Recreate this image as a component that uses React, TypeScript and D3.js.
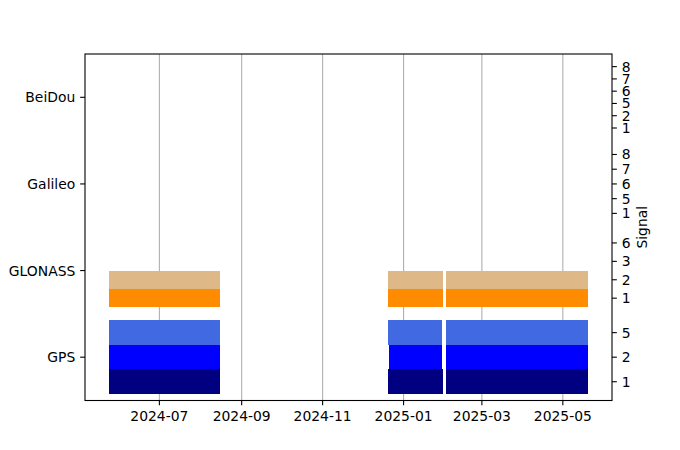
import React from 'react';
import * as d3 from 'd3';

// constellations, bottom to top
const constellations = ['GPS', 'GLONASS', 'Galileo', 'BeiDou'];

// signals tracked per constellation (bottom to top inside each band)
const gpsSignals = ['1', '2', '5'];
const glonassSignals = ['1', '2', '3', '6'];
const galileoSignals = ['1', '5', '6', '7', '8'];
const beidouSignals = ['1', '2', '5', '6', '7', '8'];

// observed periods per signal
const gpsSegments = [
  { signal: '1', start: '2024-05-24', end: '2024-08-16' },
  { signal: '1', start: '2024-12-20', end: '2025-01-31' },
  { signal: '1', start: '2025-02-02', end: '2025-05-20' },
  { signal: '2', start: '2024-05-24', end: '2024-08-16' },
  { signal: '2', start: '2024-12-21', end: '2025-01-30' },
  { signal: '2', start: '2025-02-02', end: '2025-05-20' },
  { signal: '5', start: '2024-05-24', end: '2024-08-16' },
  { signal: '5', start: '2024-12-20', end: '2025-01-30' },
  { signal: '5', start: '2025-02-02', end: '2025-05-20' },
];
const glonassSegments = [
  { signal: '1', start: '2024-05-24', end: '2024-08-16' },
  { signal: '1', start: '2024-12-20', end: '2025-01-31' },
  { signal: '1', start: '2025-02-02', end: '2025-05-20' },
  { signal: '2', start: '2024-05-24', end: '2024-08-16' },
  { signal: '2', start: '2024-12-20', end: '2025-01-31' },
  { signal: '2', start: '2025-02-02', end: '2025-05-20' },
];
const galileoSegments: { signal: string; start: string; end: string }[] = [];
const beidouSegments: { signal: string; start: string; end: string }[] = [];

const signalColors: Record<string, string> = {
  'GPS-1': '#000080',
  'GPS-2': '#0000ff',
  'GPS-5': '#4169e1',
  'GLONASS-1': '#ff8c00',
  'GLONASS-2': '#deb887',
};

const W = 680;
const H = 450;
const margin = { left: 85, right: 612, top: 54, bottom: 400.5 };
const bandHeight = 0.85;
const fontSize = 13.9;
const font = 'DejaVu Sans, sans-serif';

export default function App() {
  const signalLists = [gpsSignals, glonassSignals, galileoSignals, beidouSignals];
  const segmentLists = [gpsSegments, glonassSegments, galileoSegments, beidouSegments];

  const parse = d3.utcParse('%Y-%m-%d');
  const bars = segmentLists.flatMap((segs, k) =>
    segs.map(s => ({
      k,
      idx: signalLists[k].indexOf(s.signal),
      n: signalLists[k].length,
      start: parse(s.start) as Date,
      end: parse(s.end) as Date,
      color: signalColors[`${constellations[k]}-${s.signal}`],
    }))
  );

  // matplotlib-like 5% margin around the data
  const minT = d3.min(bars, d => +d.start) as number;
  const maxT = d3.max(bars, d => +d.end) as number;
  const pad = (maxT - minT) * 0.05;
  const x = d3.scaleUtc()
    .domain([new Date(minT - pad), new Date(maxT + pad)])
    .range([margin.left, margin.right]);
  const y = d3.scaleLinear()
    .domain([-0.5, constellations.length - 0.5])
    .range([margin.bottom, margin.top]);

  const xTicks = x.ticks(d3.utcMonth.every(2) as d3.TimeInterval);
  const fmt = d3.utcFormat('%Y-%m');

  const sigPos = (k: number, i: number, n: number) =>
    k - bandHeight / 2 + (i * bandHeight) / n;

  const rightTicks = signalLists.flatMap((list, k) =>
    list.map((s, i) => ({ label: s, v: sigPos(k, i + 0.5, list.length) }))
  );

  const tickLen = 4.86;

  return (
    <svg width={W} height={H} style={{ position: 'absolute', left: 0, top: 0, background: '#fff' }}
      fontFamily={font} fontSize={fontSize}>
      <rect width={W} height={H} fill="#fff" />
      {/* grid */}
      {xTicks.map(t => (
        <line key={+t} x1={x(t)} x2={x(t)} y1={margin.top} y2={margin.bottom}
          stroke="#b0b0b0" strokeWidth={1.1} />
      ))}
      {/* bars */}
      {bars.map((b, i) => {
        const y0 = y(sigPos(b.k, b.idx, b.n));
        const y1 = y(sigPos(b.k, b.idx + 1, b.n));
        return (
          <rect key={i} x={x(b.start)} width={x(b.end) - x(b.start)}
            y={y1} height={y0 - y1} fill={b.color} shapeRendering="crispEdges" />
        );
      })}
      {/* frame */}
      <rect x={margin.left} y={margin.top} width={margin.right - margin.left}
        height={margin.bottom - margin.top} fill="none" stroke="#000" strokeWidth={1.1} />
      {/* x axis */}
      {xTicks.map(t => (
        <g key={+t}>
          <line x1={x(t)} x2={x(t)} y1={margin.bottom} y2={margin.bottom + tickLen} stroke="#000" strokeWidth={1.1} />
          <text x={x(t)} y={margin.bottom + tickLen + 4.86 + 10.6} textAnchor="middle" fill="#000">{fmt(t)}</text>
        </g>
      ))}
      {/* left axis */}
      {constellations.map((c, k) => (
        <g key={c}>
          <line x1={margin.left - tickLen} x2={margin.left} y1={y(k)} y2={y(k)} stroke="#000" strokeWidth={1.1} />
          <text x={margin.left - tickLen - 4.86} y={y(k)} dy="0.36em" textAnchor="end" fill="#000">{c}</text>
        </g>
      ))}
      {/* right axis */}
      {rightTicks.map((t, i) => (
        <g key={i}>
          <line x1={margin.right} x2={margin.right + tickLen} y1={y(t.v)} y2={y(t.v)} stroke="#000" strokeWidth={1.1} />
          <text x={margin.right + tickLen + 4.86} y={y(t.v)} dy="0.36em" fill="#000">{t.label}</text>
        </g>
      ))}
      <text transform={`translate(${647},${(margin.top + margin.bottom) / 2}) rotate(-90)`}
        textAnchor="middle" fill="#000">Signal</text>
    </svg>
  );
}
